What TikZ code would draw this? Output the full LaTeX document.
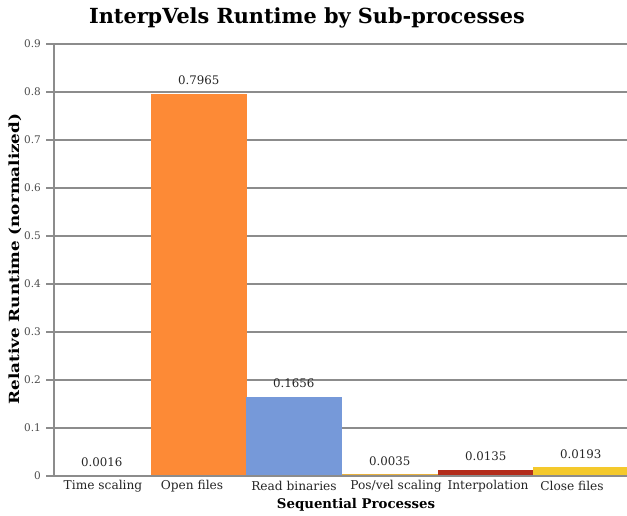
\documentclass[tikz,border=0pt]{standalone}
\usepackage{fontspec}
\setmainfont{DejaVu Serif}
\definecolor{gridgray}{HTML}{8C8C8C}
\definecolor{barorange}{HTML}{FD8A36}
\definecolor{barblue}{HTML}{7699D9}
\definecolor{barochre}{HTML}{E8B13E}
\definecolor{barred}{HTML}{B32D1C}
\definecolor{baryellow}{HTML}{F4C92C}
\definecolor{barslate}{HTML}{5B7DB8}
\begin{document}
\begin{tikzpicture}[x=1pt,y=-1pt,
  gridline/.style={draw=gridgray,line width=1.1pt},
  ticklbl/.style={anchor=east,text=black!70,font=\fontsize{10.5}{12}\selectfont,inner sep=0pt},
  catlbl/.style={text=black!85,font=\fontsize{12.2}{14}\selectfont,inner sep=0pt},
  vallbl/.style={text=black!85,font=\fontsize{11.8}{14}\selectfont,inner sep=0pt},
  axtitle/.style={font=\bfseries\fontsize{13.3}{15}\selectfont,inner sep=0pt}]
\useasboundingbox (0,0) rectangle (627,515);
\fill[white] (0,0) rectangle (627,515);

% title
\node[font=\bfseries\fontsize{20.8}{24}\selectfont,inner sep=0pt] (title) at (307,18) {InterpVels Runtime by Sub-processes};

% horizontal gridlines with tick labels (0.1 = 48 units)
\foreach \v/\t in {0/0,1/0.1,2/0.2,3/0.3,4/0.4,5/0.5,6/0.6,7/0.7,8/0.8,9/0.9}{
  \draw[gridline] (46,{476-48*\v}) -- (627,{476-48*\v});
  \node[ticklbl] (tick\v) at (41,{476-48*\v}) {\t};
}
% vertical axis
\draw[gridline] (54,44) -- (54,476);

% bars: name/left edge/value/colour
\foreach \n/\x/\val/\c in {ts/54/0.0016/barslate, of/151/0.7965/barorange,
    rb/246/0.1656/barblue, pv/342/0.0035/barochre,
    ip/438/0.0135/barred, cf/533/0.0193/baryellow}{
  \fill[\c] (\x,476) rectangle ({\x+95.5},{476-480*\val});
  \node[vallbl] (val\n) at ({\x+47.75},{476-480*\val-13}) {\val};
}
\draw[gridline] (46,476) -- (627,476);

% category labels
\node[catlbl] (cts) at (103,486) {Time scaling};
\node[catlbl] (cof) at (192,486) {Open files};
\node[catlbl] (crb) at (294,486) {Read binaries};
\node[catlbl] (cpv) at (396,486) {Pos/vel scaling};
\node[catlbl] (cip) at (488,486) {Interpolation};
\node[catlbl] (ccf) at (572,486) {Close files};

% axis titles
\node[axtitle] (xtitle) at (356,505) {Sequential Processes};
\node[axtitle,font=\bfseries\fontsize{14}{16}\selectfont,rotate=90] (ytitle) at (15,259) {\scalebox{1.2}[1]{Relative Runtime (normalized)}};
\end{tikzpicture}
\end{document}
